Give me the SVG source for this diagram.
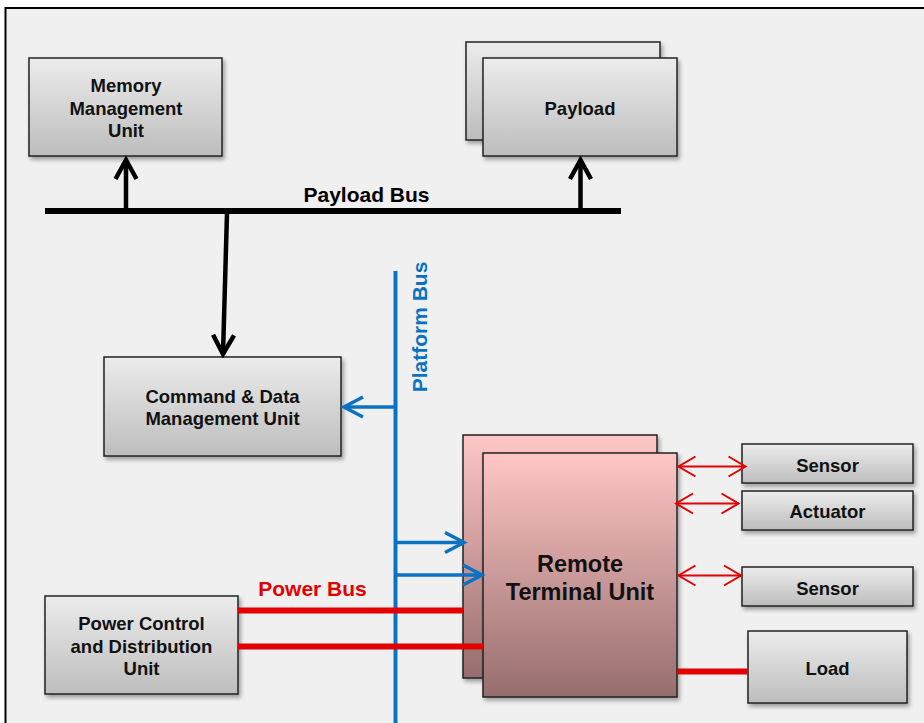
<svg xmlns="http://www.w3.org/2000/svg" width="924" height="723" viewBox="0 0 924 723">
<style>
  text { font-family: "Liberation Sans", Arial, sans-serif; font-weight: bold; }
  .box { fill: url(#gGray); stroke: #222; stroke-width: 1.5; filter: url(#shadow); }
  .rtu { fill: url(#gPink); stroke: #222; stroke-width: 1.5; filter: url(#shadow); }
  .lbl { font-size: 18.5px; fill: #111; text-anchor: middle; }
  .bus { font-size: 21px; text-anchor: middle; }
  .blk { stroke: #000; stroke-width: 4.5; fill: none; }
  .blu { stroke: #0a72c2; stroke-width: 3.5; fill: none; }
  .red { stroke: #e30000; stroke-width: 6; fill: none; }
  .red2 { stroke: #e30000; stroke-width: 2; fill: none; }
</style>
<defs>
  <linearGradient id="gGray" x1="0" y1="0" x2="0" y2="1">
    <stop offset="0" stop-color="#ececec"/>
    <stop offset="1" stop-color="#bdbdbd"/>
  </linearGradient>
  <linearGradient id="gPink" x1="0" y1="0" x2="0" y2="1">
    <stop offset="0" stop-color="#ffc6c6"/>
    <stop offset="1" stop-color="#966d6d"/>
  </linearGradient>
  <filter id="shadow" x="-10%" y="-10%" width="130%" height="130%">
    <feDropShadow dx="2" dy="3" stdDeviation="2" flood-color="#000" flood-opacity="0.35"/>
  </filter>
  <marker id="aBlk" markerUnits="userSpaceOnUse" viewBox="-24 -14 28 28" markerWidth="28" markerHeight="28" refX="0" refY="0" orient="auto">
    <path d="M-19,-10.5 L0,0 L-19,10.5" fill="none" stroke="#000" stroke-width="4.5"/>
  </marker>
  <marker id="aBlu" markerUnits="userSpaceOnUse" viewBox="-24 -14 28 28" markerWidth="28" markerHeight="28" refX="0" refY="0" orient="auto">
    <path d="M-19,-10 L0,0 L-19,10" fill="none" stroke="#0a72c2" stroke-width="3.5"/>
  </marker>
  <marker id="aRed" markerUnits="userSpaceOnUse" viewBox="-22 -13 26 26" markerWidth="26" markerHeight="26" refX="0" refY="0" orient="auto-start-reverse">
    <path d="M-17,-10 L0,0 L-17,10" fill="none" stroke="#e30000" stroke-width="2"/>
  </marker>
</defs>

<rect x="0" y="0" width="924" height="723" fill="#ffffff"/>
<rect x="5.5" y="8" width="940" height="740" fill="#f0f0f0" stroke="#000" stroke-width="2"/>

<g id="nodes">
  <g id="mmu">
    <rect class="box" x="29" y="58" width="193" height="98"/>
    <text class="lbl" x="126" y="92">Memory</text>
    <text class="lbl" x="126" y="114.5">Management</text>
    <text class="lbl" x="126" y="137">Unit</text>
  </g>
  <g id="payload">
    <rect class="box" x="466" y="42" width="194" height="98"/>
    <rect class="box" x="483" y="58" width="194" height="98"/>
    <text class="lbl" x="580" y="115">Payload</text>
  </g>
  <g id="cdmu">
    <rect class="box" x="104" y="357" width="237" height="99"/>
    <text class="lbl" x="222.5" y="403">Command &amp; Data</text>
    <text class="lbl" x="222.5" y="425">Management Unit</text>
  </g>
  <g id="pcdu">
    <rect class="box" x="45" y="596" width="193" height="98"/>
    <text class="lbl" x="141.5" y="630">Power Control</text>
    <text class="lbl" x="141.5" y="653">and Distribution</text>
    <text class="lbl" x="141.5" y="675">Unit</text>
  </g>
  <g id="rtu">
    <rect class="rtu" x="463" y="435" width="194" height="243"/>
    <rect class="rtu" x="483" y="453" width="194" height="244"/>
    <text x="580" y="571.5" font-size="23.5" fill="#111" text-anchor="middle">Remote</text>
    <text x="580" y="600" font-size="23.5" fill="#111" text-anchor="middle">Terminal Unit</text>
  </g>
  <g id="sensor1">
    <rect class="box" x="742" y="444" width="171" height="39"/>
    <text class="lbl" x="827.5" y="471.5">Sensor</text>
  </g>
  <g id="actuator">
    <rect class="box" x="742" y="491" width="171" height="39"/>
    <text class="lbl" x="827.5" y="518">Actuator</text>
  </g>
  <g id="sensor2">
    <rect class="box" x="742" y="567" width="171" height="39"/>
    <text class="lbl" x="827.5" y="594.5">Sensor</text>
  </g>
  <g id="load">
    <rect class="box" x="748" y="631" width="159" height="72"/>
    <text class="lbl" x="827.5" y="674.5">Load</text>
  </g>
</g>

<g id="connectors">
  <!-- Payload bus -->
  <line x1="45" y1="211" x2="621" y2="211" stroke="#000" stroke-width="6"/>
  <text class="bus" x="366.5" y="202" fill="#000">Payload Bus</text>
  <line class="blk" x1="126" y1="211" x2="126" y2="160" marker-end="url(#aBlk)"/>
  <line class="blk" x1="580.5" y1="211" x2="580.5" y2="160" marker-end="url(#aBlk)"/>
  <line class="blk" x1="227" y1="213" x2="223" y2="354" marker-end="url(#aBlk)"/>

  <!-- Platform bus -->
  <line x1="395.5" y1="271" x2="395.5" y2="723" stroke="#0a72c2" stroke-width="4"/>
  <text class="bus" transform="translate(427 327) rotate(-90)" fill="#0a72c2">Platform Bus</text>
  <line class="blu" x1="395.5" y1="407" x2="344" y2="407" marker-end="url(#aBlu)"/>
  <line class="blu" x1="395.5" y1="542.5" x2="464" y2="542.5" marker-end="url(#aBlu)"/>
  <line class="blu" x1="395.5" y1="575" x2="482" y2="575" marker-end="url(#aBlu)"/>

  <!-- Power bus -->
  <text class="bus" x="312.5" y="596" fill="#e30000">Power Bus</text>
  <line class="red" x1="238" y1="610.5" x2="463" y2="610.5"/>
  <line class="red" x1="238" y1="646.5" x2="483" y2="646.5"/>
  <line class="red" x1="677" y1="671.5" x2="748" y2="671.5"/>

  <!-- RTU to sensors/actuator -->
  <line class="red2" x1="678.5" y1="466.5" x2="745.5" y2="466.5" marker-start="url(#aRed)" marker-end="url(#aRed)"/>
  <line class="red2" x1="676" y1="503.5" x2="738.5" y2="503.5" marker-start="url(#aRed)" marker-end="url(#aRed)"/>
  <line class="red2" x1="678.5" y1="575.5" x2="741" y2="575.5" marker-start="url(#aRed)" marker-end="url(#aRed)"/>
</g>
</svg>
